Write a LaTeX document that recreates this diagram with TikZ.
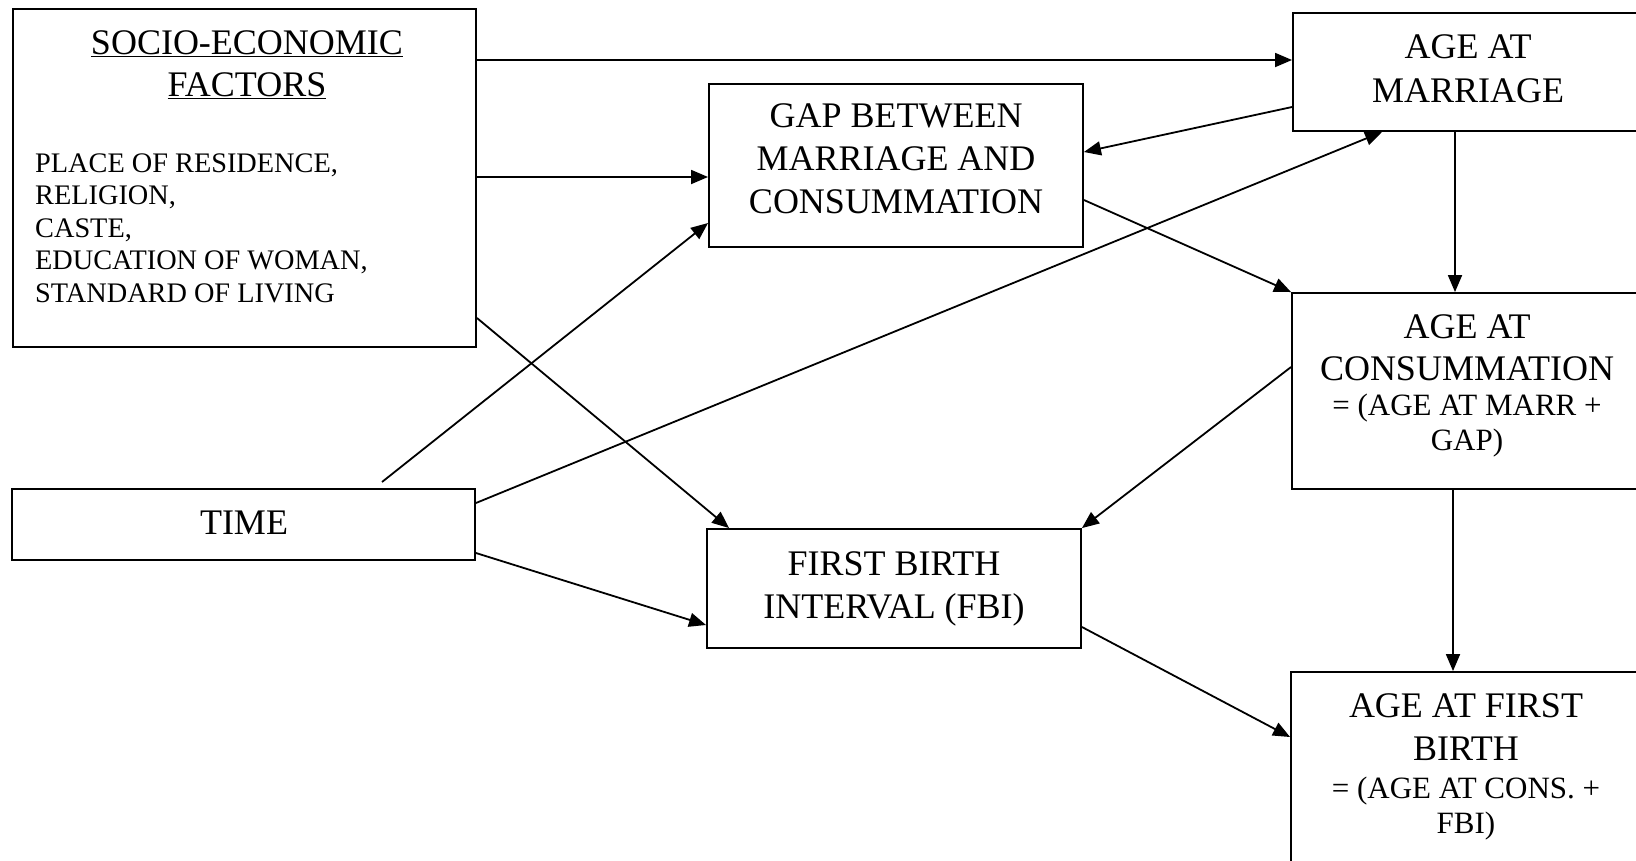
\documentclass[tikz,border=0pt]{standalone}
\usepackage{fontspec}
\setmainfont{Liberation Serif}
\usetikzlibrary{arrows.meta}
\begin{document}
\begin{tikzpicture}[x=1pt,y=-1pt,
  box/.style={draw,line width=1.9pt,inner sep=0pt,minimum width=#1},
  big/.style={font=\fontsize{36}{42}\selectfont,anchor=base,inner sep=0pt},
  mid/.style={font=\fontsize{31}{35}\selectfont,anchor=base,inner sep=0pt},
  small/.style={font=\fontsize{28.3}{33}\selectfont,anchor=base west,inner sep=0pt},
  arr/.style={line width=1.8pt,-{Triangle[length=17pt,width=14pt]}},
  ln/.style={line width=1.8pt}]
\useasboundingbox (0,0) rectangle (1636,860);
\clip (0,0) rectangle (1636,860);
% boxes
\node[box=463pt,minimum height=338pt] (se) at (244.5,178) {};
\node[box=350pt,minimum height=118pt] (am) at (1468,72) {};
\node[box=374pt,minimum height=163pt] (gap) at (896,165.5) {};
\node[box=350pt,minimum height=196pt] (ac) at (1467,391) {};
\node[box=350pt,minimum height=228pt] (afb) at (1466,786) {};
\node[box=463pt,minimum height=71pt] (time) at (243.5,524.5) {};
\node[box=374pt,minimum height=119pt] (fbi) at (894,588.5) {};
% texts
\node[big] (se1) at (247,54) {\underline{SOCIO-ECONOMIC}};
\node[big] (se2) at (247,96) {\underline{FACTORS}};
\node[small] (l1) at (35,172) {PLACE OF RESIDENCE,};
\node[small] (l2) at (35,204.5) {RELIGION,};
\node[small] (l3) at (35,237) {CASTE,};
\node[small] (l4) at (35,269.5) {EDUCATION OF WOMAN,};
\node[small] (l5) at (35,302) {STANDARD OF LIVING};
\node[big] (am1) at (1468,58) {AGE AT};
\node[big] (am2) at (1468,102) {MARRIAGE};
\node[big] (g1) at (896,127) {GAP BETWEEN};
\node[big] (g2) at (896,170) {MARRIAGE AND};
\node[big] (g3) at (896,213) {CONSUMMATION};
\node[big] (ac1) at (1467,338) {AGE AT};
\node[big] (ac2) at (1467,380) {CONSUMMATION};
\node[mid] (ac3) at (1467,415) {= (AGE AT MARR +};
\node[mid] (ac4) at (1467,450) {GAP)};
\node[big] (afb1) at (1466,717) {AGE AT FIRST};
\node[big] (afb2) at (1466,760) {BIRTH};
\node[mid] (afb3) at (1466,798) {= (AGE AT CONS. +};
\node[mid] (afb4) at (1466,833) {FBI)};
\node[big] (t1) at (244,534) {TIME};
\node[big] (f1) at (894,575) {FIRST BIRTH};
\node[big] (f2) at (894,618) {INTERVAL (FBI)};
% connectors
\coordinate (tstart) at (382,482);
\draw[arr] (se.east |- 0,60) -- (am.west |- 0,60);
\draw[arr] (se.east |- 0,177) -- (gap.west |- 0,177);
\draw[arr] (se.east |- 0,318) -- ([xshift=23pt]fbi.north west);
\draw[arr] (tstart) -- (gap.west |- 0,223);
\draw[arr] (time.east |- 0,503) -- ([xshift=90pt]am.south west);
\draw[arr] (time.east |- 0,553) -- (fbi.west |- 0,625);
\draw[arr] (am.west |- 0,107) -- (gap.east |- 0,152);
\draw[arr] (am.south -| 1455,0) -- (ac.north -| 1455,0);
\draw[arr] (gap.east |- 0,200) -- (ac.north west);
\draw[arr] (ac.west |- 0,367) -- (fbi.north east);
\draw[arr] (ac.south -| 1453,0) -- (afb.north -| 1453,0);
\draw[arr] (fbi.east |- 0,627) -- (afb.west |- 0,737);
\end{tikzpicture}
\end{document}
